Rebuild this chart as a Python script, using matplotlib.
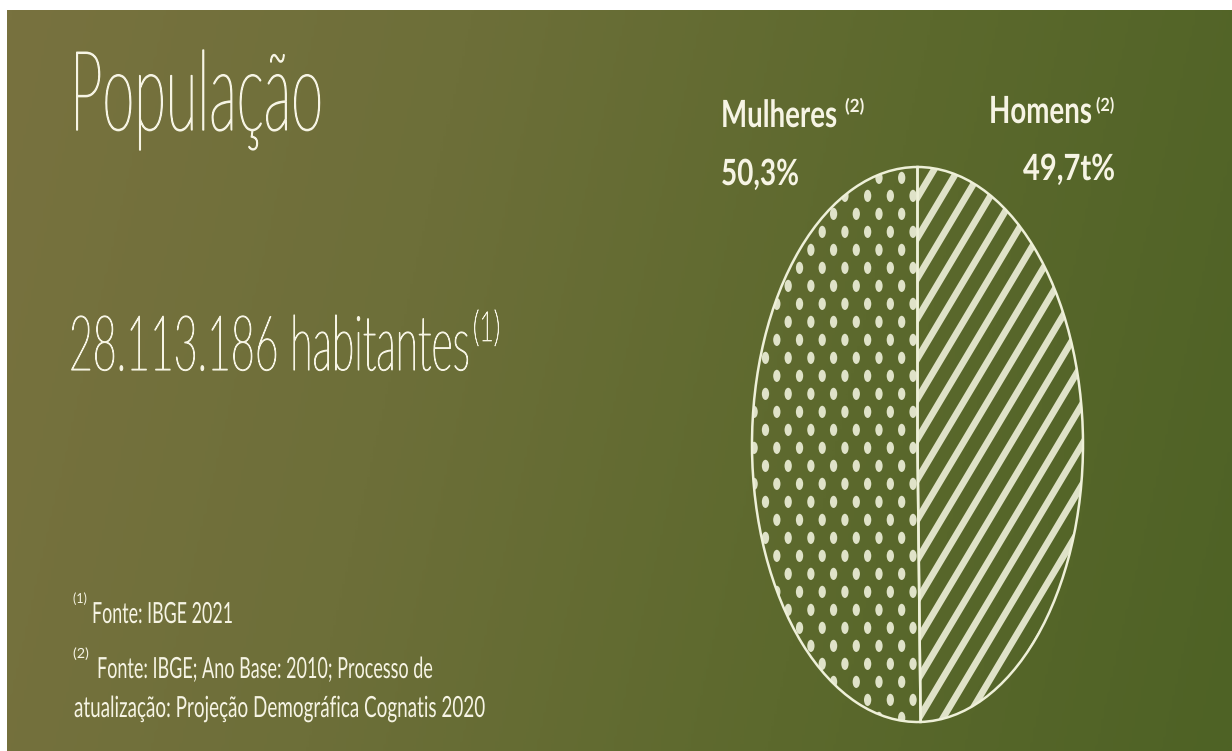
import numpy as np
import matplotlib
matplotlib.use('Agg')
import matplotlib.pyplot as plt
from matplotlib.colors import LinearSegmentedColormap
from matplotlib.collections import LineCollection, PatchCollection
from matplotlib.patches import Ellipse
from matplotlib.patheffects import AbstractPathEffect
from matplotlib.transforms import Affine2D

# data
labels = ['Homens', 'Mulheres']
shares = [49.7, 50.3]
share_text = ['49,7t%', '50,3%']
population = '28.113.186'
title = 'População'
notes = ['Fonte: IBGE 2021',
         'Fonte: IBGE; Ano Base: 2010; Processo de',
         'atualização: Projeção Demográfica Cognatis 2020']

W, H = 1232, 751
txt = '#f6f4e4'
cream = '#dfe2c8'
fonts = ['Lato', 'DejaVu Sans']


# the artwork uses a condensed face: text is set at the width it has,
# then stretched up around its baseline to the height it has
class Stretch(AbstractPathEffect):
    def __init__(self, y0, sy, stroke=0.0):
        super().__init__()
        self.y0, self.sy, self.stroke = y0, sy, stroke

    def draw_path(self, renderer, gc, tpath, affine, rgbFace=None):
        st = Affine2D().translate(0, -self.y0).scale(1, self.sy).translate(0, self.y0)
        gc0 = renderer.new_gc()
        gc0.copy_properties(gc)
        if self.stroke and rgbFace is not None:
            gc0.set_linewidth(self.stroke)
            gc0.set_foreground(rgbFace)
        renderer.draw_path(gc0, tpath, affine + st, rgbFace)
        gc0.restore()


fig = plt.figure(figsize=(W / 100, H / 100), dpi=100)
fig.patch.set_facecolor('white')

# background gradient (white margin on top and left)
bg_ax = fig.add_axes([7 / W, 0, 1 - 7 / W, 1 - 10 / H], zorder=-5)
gx, gy = np.meshgrid(np.linspace(0, 1, 400), np.linspace(0, 1, 250))
grad = 0.88 * gx + 0.12 * gy
cmap = LinearSegmentedColormap.from_list('bg', ['#78723f', '#6d6f39', '#5c692d', '#4e6225'])
bg_ax.imshow(grad, cmap=cmap, aspect='auto', extent=[0, 1, 1, 0], interpolation='bilinear')
bg_ax.set_axis_off()

texts = []


def put(s, x, y, size, width, weight='normal', stroke=0.0):
    t = fig.text(x / W, 1 - y / H, s, fontsize=size, fontweight=weight, color=txt,
                 ha='left', va='baseline', family=fonts)
    texts.append((t, size, width, stroke))
    return t


# left side texts
put(title, 70, 130, 80, 253, 'light', 1.0)
put(population + ' habitantes', 69, 370, 55, 401, 'light', 0.8)
put('(1)', 473, 341, 30, 27, 'light', 0.5)

put('(1)', 73, 603, 10, 14)
put(notes[0], 92, 623, 21, 141)
put('(2)', 73, 658, 10, 16)
put(notes[1], 97, 678, 21, 336)
put(notes[2], 74, 717, 21, 411)

# pie labels
put(labels[1], 721, 127, 27, 116, 'bold')
put('(2)', 845, 112, 13, 19, 'bold')
put(share_text[1], 721, 185, 26, 78, 'bold')
put(labels[0], 989, 123, 27, 103, 'bold')
put('(2)', 1096, 111, 13, 18, 'bold')
put(share_text[0], 1023, 180, 26, 92, 'bold')

# pie (drawn as ellipse: axes box is taller than wide)
cx, cy, rx, ry, pad = 917.5, 444.5, 165.5, 277.5, 1.05
ax = fig.add_axes([(cx - rx * pad) / W, 1 - (cy + ry * pad) / H, 2 * rx * pad / W, 2 * ry * pad / H])
ax.patch.set_alpha(0)
wedges, _ = ax.pie(shares, startangle=90, counterclock=False, radius=1,
                   wedgeprops=dict(facecolor='none', edgecolor='#eef0d8', linewidth=1.8))
for w in wedges:
    w.set_zorder(3)
ax.set_aspect('auto')
ax.set_xlim(-pad, pad)
ax.set_ylim(-pad, pad)
ax.set_axis_off()

# stripes for Homens
step = 24 / rx
cs = np.arange(-2.3, 2.3, step)
segs = [[(-1.2, -1.2 + c), (1.2, 1.2 + c)] for c in cs]
lc = LineCollection(segs, colors=cream, linewidths=4.8, zorder=2)
ax.add_collection(lc)
lc.set_clip_path(wedges[0])

# dots for Mulheres
dx, dy = 22.7 / rx, 18 / ry
dots = []
for i, yy in enumerate(np.arange(-1.05, 1.06, dy)):
    shift = 0 if i % 2 == 0 else dx / 2
    for xx in np.arange(-0.027 - shift, -1.1, -dx):
        dots.append(Ellipse((xx, yy), 0.044, 0.044))
pc = PatchCollection(dots, facecolor=cream, edgecolor='none', zorder=2)
ax.add_collection(pc)
pc.set_clip_path(wedges[1])

# measure the texts, shrink each to its width, stretch back to its height
fig.canvas.draw()
r = fig.canvas.get_renderer()
for t, size, width, stroke in texts:
    k = width / t.get_window_extent(r).width
    t.set_fontsize(size * k)
    y0 = t.get_transform().transform(t.get_position())[1]
    t.set_path_effects([Stretch(y0, 1 / k, stroke)])

fig.savefig('out.png', dpi=100)
